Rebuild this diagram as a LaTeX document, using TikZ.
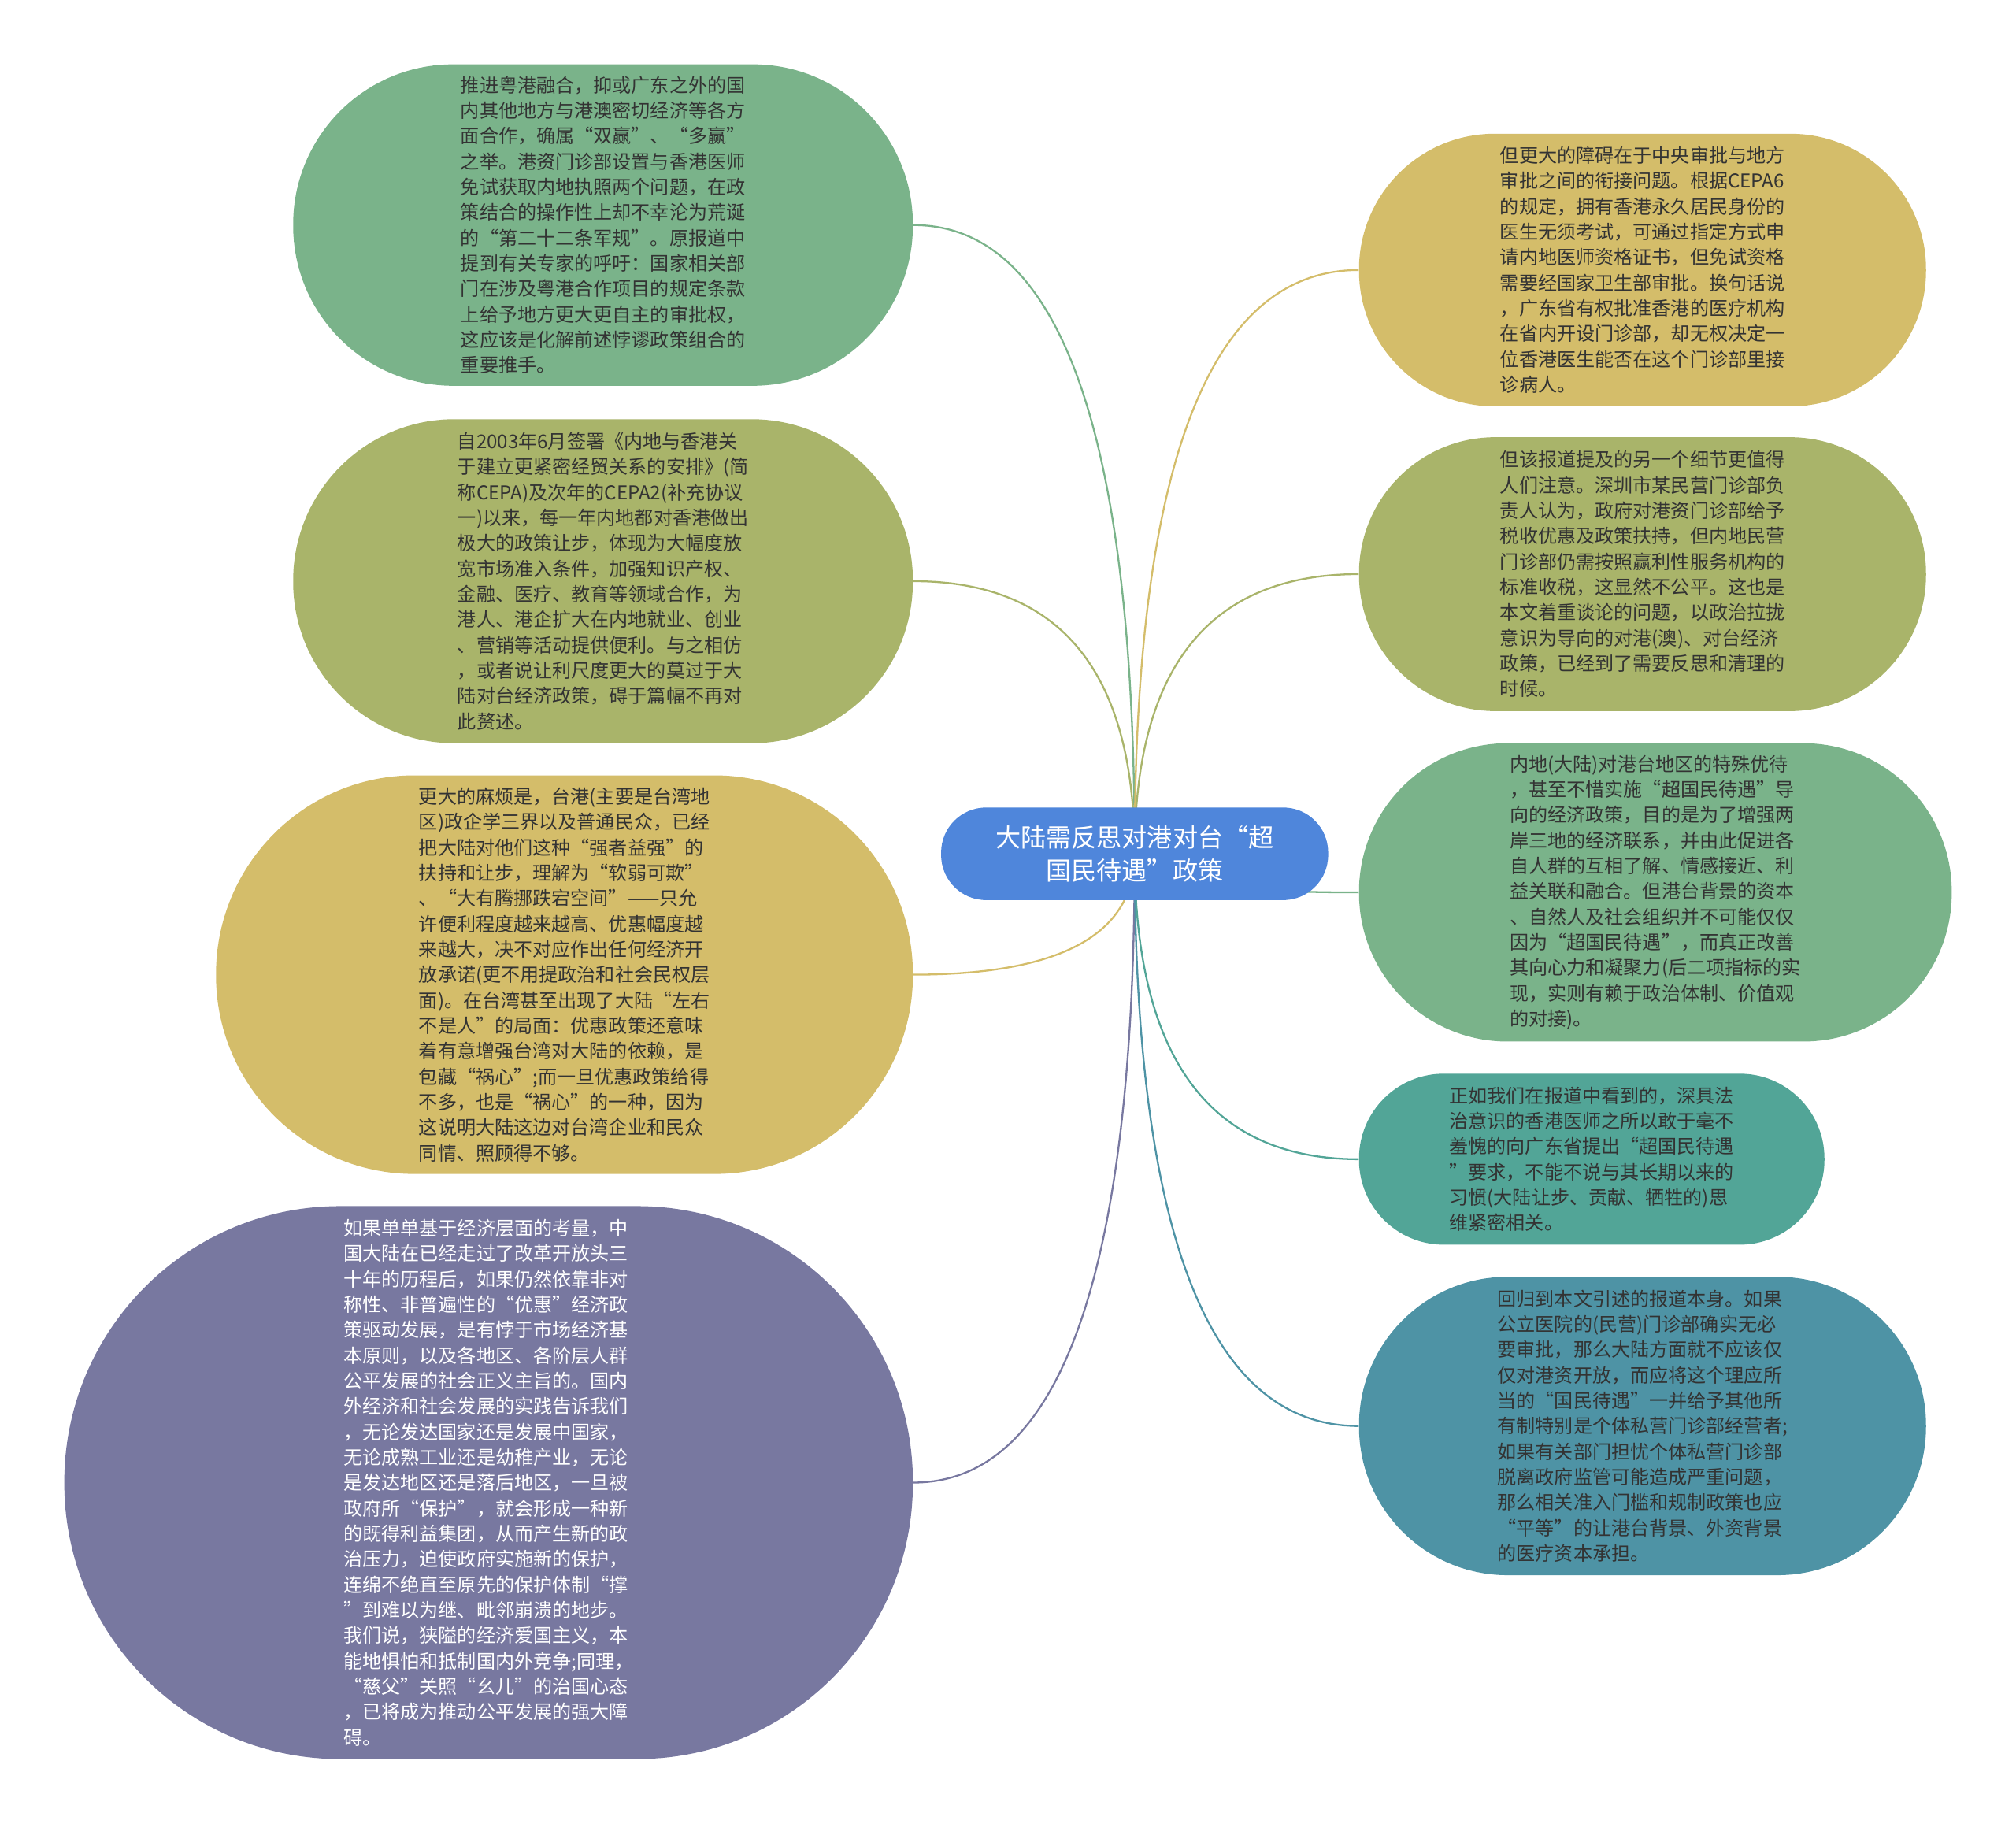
\documentclass[tikz,border=0pt]{standalone}
\usepackage{fontspec}
\setmainfont{Noto Sans CJK SC}
\usetikzlibrary{backgrounds,calc}
\definecolor{cgreen}{HTML}{7AB38A}
\definecolor{colive}{HTML}{A9B46A}
\definecolor{cyellow}{HTML}{D4BD6A}
\definecolor{cpurple}{HTML}{7878A0}
\definecolor{cteal}{HTML}{52A597}
\definecolor{cblueteal}{HTML}{4E93A5}
\definecolor{chub}{HTML}{4F86DB}
\definecolor{ctext}{HTML}{333333}
\tikzset{
  leaf/.style={rectangle,align=left,inner sep=0pt,text=ctext,font=\fontsize{8.4pt}{11.27pt}\selectfont},
  hub/.style={rectangle,align=center,inner sep=0pt,fill=chub,text=white,minimum width=6.02cm,minimum height=1.44cm,rounded corners=0.7cm,font=\fontsize{11.2pt}{14.8pt}\selectfont},
  link/.style={line width=0.8pt},
  branch/.style={to path={.. controls ($(\tikztostart)!2/3!(\tikztostart |- \tikztotarget)$) and ($(\tikztotarget)!2/3!(\tikztostart |- \tikztotarget)$) .. (\tikztotarget)}}
}
\begin{document}
\begin{tikzpicture}
\useasboundingbox (0,0) rectangle (31.36,-28.36);
\node[hub] (c) at (17.65,-13.28) {大陆需反思对港对台“超\\国民待遇”政策};
% left side
\node[leaf,fill=cgreen,minimum width=9.64cm,minimum height=5cm,rounded corners=2.49cm] (l1) at (9.38,-3.5) {推进粤港融合，抑或广东之外的国\\内其他地方与港澳密切经济等各方\\面合作，确属“双赢”、“多赢”\\之举。港资门诊部设置与香港医师\\免试获取内地执照两个问题，在政\\策结合的操作性上却不幸沦为荒诞\\的“第二十二条军规”。原报道中\\提到有关专家的呼吁：国家相关部\\门在涉及粤港合作项目的规定条款\\上给予地方更大更自主的审批权，\\这应该是化解前述悖谬政策组合的\\重要推手。};
\node[leaf,fill=colive,minimum width=9.64cm,minimum height=5.04cm,rounded corners=2.51cm] (l2) at (9.38,-9.04) {自2003年6月签署《内地与香港关\\于建立更紧密经贸关系的安排》(简\\称CEPA)及次年的CEPA2(补充协议\\一)以来，每一年内地都对香港做出\\极大的政策让步，体现为大幅度放\\宽市场准入条件，加强知识产权、\\金融、医疗、教育等领域合作，为\\港人、港企扩大在内地就业、创业\\、营销等活动提供便利。与之相仿\\，或者说让利尺度更大的莫过于大\\陆对台经济政策，碍于篇幅不再对\\此赘述。};
\node[leaf,fill=cyellow,minimum width=10.84cm,minimum height=6.2cm,rounded corners=3.09cm] (l3) at (8.78,-15.16) {更大的麻烦是，台港(主要是台湾地\\区)政企学三界以及普通民众，已经\\把大陆对他们这种“强者益强”的\\扶持和让步，理解为“软弱可欺”\\、“大有腾挪跌宕空间”——只允\\许便利程度越来越高、优惠幅度越\\来越大，决不对应作出任何经济开\\放承诺(更不用提政治和社会民权层\\面)。在台湾甚至出现了大陆“左右\\不是人”的局面：优惠政策还意味\\着有意增强台湾对大陆的依赖，是\\包藏“祸心”;而一旦优惠政策给得\\不多，也是“祸心”的一种，因为\\这说明大陆这边对台湾企业和民众\\同情、照顾得不够。};
\node[leaf,fill=cpurple,text=white,minimum width=13.2cm,minimum height=8.6cm,rounded corners=4.29cm] (l4) at (7.6,-23.06) {如果单单基于经济层面的考量，中\\国大陆在已经走过了改革开放头三\\十年的历程后，如果仍然依靠非对\\称性、非普遍性的“优惠”经济政\\策驱动发展，是有悖于市场经济基\\本原则，以及各地区、各阶层人群\\公平发展的社会正义主旨的。国内\\外经济和社会发展的实践告诉我们\\，无论发达国家还是发展中国家，\\无论成熟工业还是幼稚产业，无论\\是发达地区还是落后地区，一旦被\\政府所“保护”，就会形成一种新\\的既得利益集团，从而产生新的政\\治压力，迫使政府实施新的保护，\\连绵不绝直至原先的保护体制“撑\\”到难以为继、毗邻崩溃的地步。\\我们说，狭隘的经济爱国主义，本\\能地惧怕和抵制国内外竞争;同理，\\“慈父”关照“幺儿”的治国心态\\，已将成为推动公平发展的强大障\\碍。};
% right side
\node[leaf,fill=cyellow,minimum width=8.82cm,minimum height=4.24cm,rounded corners=2.11cm] (r1) at (25.55,-4.2) {但更大的障碍在于中央审批与地方\\审批之间的衔接问题。根据CEPA6\\的规定，拥有香港永久居民身份的\\医生无须考试，可通过指定方式申\\请内地医师资格证书，但免试资格\\需要经国家卫生部审批。换句话说\\，广东省有权批准香港的医疗机构\\在省内开设门诊部，却无权决定一\\位香港医生能否在这个门诊部里接\\诊病人。};
\node[leaf,fill=colive,minimum width=8.82cm,minimum height=4.26cm,rounded corners=2.12cm] (r2) at (25.55,-8.93) {但该报道提及的另一个细节更值得\\人们注意。深圳市某民营门诊部负\\责人认为，政府对港资门诊部给予\\税收优惠及政策扶持，但内地民营\\门诊部仍需按照赢利性服务机构的\\标准收税，这显然不公平。这也是\\本文着重谈论的问题，以政治拉拢\\意识为导向的对港(澳)、对台经济\\政策，已经到了需要反思和清理的\\时候。};
\node[leaf,fill=cgreen,minimum width=9.22cm,minimum height=4.64cm,rounded corners=2.31cm] (r3) at (25.75,-13.88) {内地(大陆)对港台地区的特殊优待\\，甚至不惜实施“超国民待遇”导\\向的经济政策，目的是为了增强两\\岸三地的经济联系，并由此促进各\\自人群的互相了解、情感接近、利\\益关联和融合。但港台背景的资本\\、自然人及社会组织并不可能仅仅\\因为“超国民待遇”，而真正改善\\其向心力和凝聚力(后二项指标的实\\现，实则有赖于政治体制、价值观\\的对接)。};
\node[leaf,fill=cteal,minimum width=7.24cm,minimum height=2.66cm,rounded corners=1.32cm] (r4) at (24.76,-18.03) {正如我们在报道中看到的，深具法\\治意识的香港医师之所以敢于毫不\\羞愧的向广东省提出“超国民待遇\\”要求，不能不说与其长期以来的\\习惯(大陆让步、贡献、牺牲的)思\\维紧密相关。};
\node[leaf,fill=cblueteal,minimum width=8.82cm,minimum height=4.64cm,rounded corners=2.31cm] (r5) at (25.55,-22.18) {回归到本文引述的报道本身。如果\\公立医院的(民营)门诊部确实无必\\要审批，那么大陆方面就不应该仅\\仅对港资开放，而应将这个理应所\\当的“国民待遇”一并给予其他所\\有制特别是个体私营门诊部经营者;\\如果有关部门担忧个体私营门诊部\\脱离政府监管可能造成严重问题，\\那么相关准入门槛和规制政策也应\\“平等”的让港台背景、外资背景\\的医疗资本承担。};
% links
\begin{scope}[on background layer]
\fill[white] (0,0) rectangle (31.36,-28.36);
\draw[link,cgreen] (c.center) to[branch] (l1.east);
\draw[link,colive] (c.center) to[branch] (l2.east);
\draw[link,cyellow] (c.center) to[branch] (l3.east);
\draw[link,cpurple] (c.center) to[branch] (l4.east);
\draw[link,cyellow] (c.center) to[branch] (r1.west);
\draw[link,colive] (c.center) to[branch] (r2.west);
\draw[link,cgreen] (c.center) to[branch] (r3.west);
\draw[link,cteal] (c.center) to[branch] (r4.west);
\draw[link,cblueteal] (c.center) to[branch] (r5.west);
\end{scope}
\end{tikzpicture}
\end{document}
